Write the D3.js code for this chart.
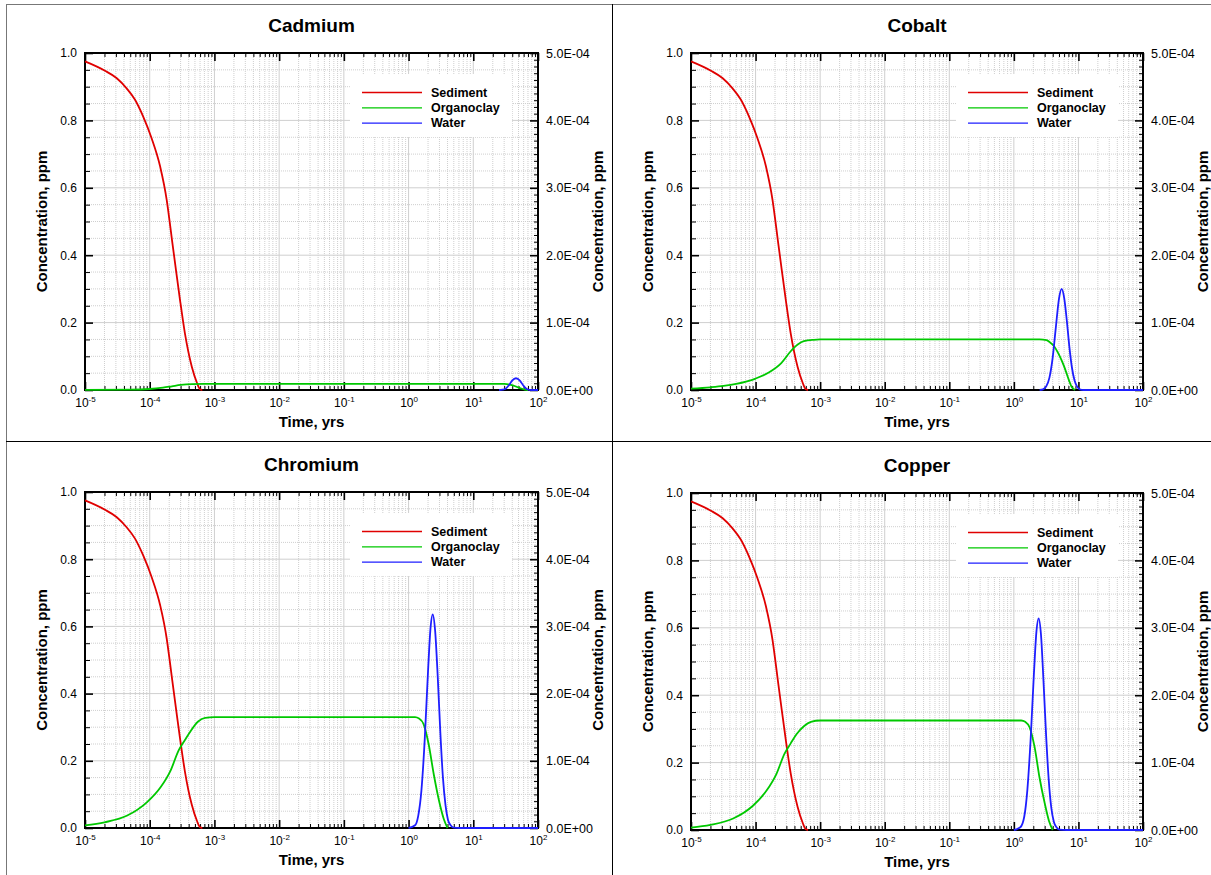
<!DOCTYPE html>
<html>
<head>
<meta charset="utf-8">
<script src="https://cdn.jsdelivr.net/npm/d3@7"></script>
<style>
body { margin: 0; background: #fff; }
svg { display: block; }
</style>
</head>
<body>
<div id="chart"></div>
<script>
const WIDTH = 1211, HEIGHT = 875;
const FONT = "Arial, 'Liberation Sans', sans-serif";

// axis ticks
const X_TICKS = [1e-5, 1e-4, 1e-3, 1e-2, 1e-1, 1e0, 1e1, 1e2];
const LEFT_TICKS = [0, 0.2, 0.4, 0.6, 0.8, 1.0];
const RIGHT_TICKS = [0, 1e-4, 2e-4, 3e-4, 4e-4, 5e-4];
const SERIES_NAMES = ["Sediment", "Organoclay", "Water"];
const SERIES_COLORS = ["#e00000", "#00c800", "#1e1eff"];

// sediment curve (same in all four runs), time in yrs, conc in ppm
const sedimentTime = [1.0e-5, 2.0e-5, 3.1e-5, 4.4e-5, 5.9e-5, 7.9e-5, 1.07e-4, 1.45e-4, 1.83e-4, 2.0e-4, 2.21e-4, 2.57e-4, 2.94e-4, 3.5e-4, 4.47e-4, 5.4e-4, 6.0e-4, 6.5e-4];
const sedimentConc = [0.975, 0.948, 0.925, 0.895, 0.862, 0.812, 0.747, 0.663, 0.564, 0.51, 0.445, 0.35, 0.267, 0.168, 0.069, 0.02, 0.002, 0];

// Cadmium
const cadmiumClayTime = [1e-5, 5e-5, 1e-4, 1.6e-4, 2.2e-4, 3e-4, 4.5e-4, 7e-4, 30, 38, 46, 54, 62, 70];
const cadmiumClayConc = [0.0005, 0.001, 0.003, 0.007, 0.011, 0.015, 0.0175, 0.018, 0.018, 0.015, 0.010, 0.005, 0.001, 0];
const cadmiumWaterTime = [25, 28.2, 31.6, 35.5, 39.8, 45.7, 52.5, 58.9, 66.1, 74.1, 83.2, 100];
const cadmiumWaterConc = [0, 0.05e-5, 0.2e-5, 0.7e-5, 1.4e-5, 1.74e-5, 1.4e-5, 0.7e-5, 0.2e-5, 0.03e-5, 0, 0];

// Cobalt
const cobaltClayTime = [1e-5, 2e-5, 3.2e-5, 5e-5, 1e-4, 1.6e-4, 2.5e-4, 3.5e-4, 4.5e-4, 5.6e-4, 8e-4, 1e-3, 2.5, 3.2, 3.6, 4.2, 5.0, 6.0, 7.1, 7.9, 8.9];
const cobaltClayConc = [0.004, 0.008, 0.012, 0.018, 0.034, 0.052, 0.08, 0.115, 0.135, 0.145, 0.149, 0.15, 0.15, 0.148, 0.142, 0.13, 0.105, 0.07, 0.03, 0.008, 0];
const cobaltWaterTime = [2.51, 2.82, 3.16, 3.55, 3.98, 4.47, 5.01, 5.5, 6.03, 6.61, 7.24, 7.94, 8.71, 9.55, 10.5, 12, 100];
const cobaltWaterConc = [0, 0.01e-4, 0.05e-4, 0.18e-4, 0.47e-4, 0.93e-4, 1.36e-4, 1.5e-4, 1.36e-4, 1.03e-4, 0.64e-4, 0.33e-4, 0.14e-4, 0.05e-4, 0.01e-4, 0, 0];

// Chromium
const chromiumClayTime = [1e-5, 2e-5, 4.5e-5, 9.1e-5, 1.48e-4, 2.1e-4, 2.8e-4, 3.5e-4, 4.3e-4, 5.6e-4, 7.2e-4, 1e-3, 1.26, 1.45, 1.70, 2.04, 2.45, 2.95, 3.5, 4.0];
const chromiumClayConc = [0.0075, 0.017, 0.037, 0.077, 0.122, 0.171, 0.231, 0.262, 0.289, 0.317, 0.328, 0.33, 0.33, 0.326, 0.31, 0.25, 0.16, 0.082, 0.027, 0];
const chromiumWaterTime = [1.0, 1.26, 1.41, 1.58, 1.78, 2.0, 2.19, 2.36, 2.57, 2.82, 3.09, 3.39, 3.72, 4.07, 4.47, 5.0, 6.3, 100];
const chromiumWaterConc = [0, 0.04e-4, 0.18e-4, 0.56e-4, 1.33e-4, 2.34e-4, 2.99e-4, 3.18e-4, 2.94e-4, 2.26e-4, 1.44e-4, 0.76e-4, 0.34e-4, 0.12e-4, 0.04e-4, 0.005e-4, 0, 0];

// Copper
const copperClayTime = [1e-5, 2e-5, 4.5e-5, 9.1e-5, 1.48e-4, 2.1e-4, 2.8e-4, 3.5e-4, 4.3e-4, 5.6e-4, 7.2e-4, 1e-3, 1.3, 1.5, 1.75, 2.1, 2.5, 3.0, 3.5, 4.0];
const copperClayConc = [0.007, 0.015, 0.034, 0.072, 0.117, 0.166, 0.226, 0.257, 0.284, 0.308, 0.321, 0.325, 0.325, 0.321, 0.305, 0.245, 0.155, 0.08, 0.027, 0];
const copperWaterTime = [1.0, 1.26, 1.45, 1.62, 1.82, 2.04, 2.24, 2.42, 2.63, 2.88, 3.16, 3.47, 3.8, 4.17, 4.57, 5.1, 6.5, 100];
const copperWaterConc = [0, 0.04e-4, 0.2e-4, 0.6e-4, 1.35e-4, 2.3e-4, 2.95e-4, 3.14e-4, 2.9e-4, 2.2e-4, 1.4e-4, 0.74e-4, 0.33e-4, 0.12e-4, 0.04e-4, 0.005e-4, 0, 0];

// panel layout
const panels = [
    { name: "Cadmium", x0: 85, y0: 53, x1: 538, y1: 390, clayT: cadmiumClayTime, clayC: cadmiumClayConc, waterT: cadmiumWaterTime, waterC: cadmiumWaterConc },
    { name: "Cobalt", x0: 691, y0: 53, x1: 1143, y1: 390, clayT: cobaltClayTime, clayC: cobaltClayConc, waterT: cobaltWaterTime, waterC: cobaltWaterConc },
    { name: "Chromium", x0: 85, y0: 492, x1: 538, y1: 828, clayT: chromiumClayTime, clayC: chromiumClayConc, waterT: chromiumWaterTime, waterC: chromiumWaterConc },
    { name: "Copper", x0: 691, y0: 493, x1: 1143, y1: 830, clayT: copperClayTime, clayC: copperClayConc, waterT: copperWaterTime, waterC: copperWaterConc }
];

const svg = d3.select("#chart").append("svg")
    .attr("width", WIDTH)
    .attr("height", HEIGHT)
    .style("font-family", FONT);
svg.append("rect").attr("width", WIDTH).attr("height", HEIGHT).attr("fill", "#fff");

const SciFormat = d => {
    const [m, e] = d.toExponential(1).split("e");
    const ex = Math.abs(+e);
    return `${m}E${+e < 0 ? "-" : "+"}${ex < 10 ? "0" + ex : ex}`;
};
const IsDecade = t => Math.abs(Math.log10(t) - Math.round(Math.log10(t))) < 1e-6;
const StyleAxis = (g, size) => {
    g.select(".domain").remove();
    g.attr("font-family", FONT).attr("font-size", size || 12);
    g.selectAll(".tick line").attr("stroke", "#000");
    g.selectAll(".tick text").attr("fill", "#000");
};

function DrawPanel(p) {
    const x = d3.scaleLog().domain([1e-5, 1e2]).range([p.x0, p.x1]);
    const yL = d3.scaleLinear().domain([0, 1]).range([p.y1, p.y0]);
    const yR = d3.scaleLinear().domain([0, 5e-4]).range([p.y1, p.y0]);
    const g = svg.append("g");

    const allX = x.ticks();
    const minorX = allX.filter(t => !IsDecade(t));
    const innerX = allX.filter(t => t > 1e-5 && t < 1e2);
    const allY = yL.ticks(20);
    const minorL = allY.filter(v => !LEFT_TICKS.some(m => Math.abs(m - v) < 1e-9));
    const minorR = yR.ticks(50).filter(v => !RIGHT_TICKS.some(m => Math.abs(m - v) < 1e-12));

    // grid
    const grid = g.append("g");
    grid.selectAll(".vg").data(innerX).join("line")
        .attr("x1", d => x(d)).attr("x2", d => x(d))
        .attr("y1", p.y0).attr("y2", p.y1)
        .attr("stroke", "#cfcfcf")
        .attr("stroke-width", 1)
        .attr("stroke-dasharray", d => IsDecade(d) ? null : "1,1");
    grid.selectAll(".hg").data(allY.filter(v => v > 0 && v < 1)).join("line")
        .attr("x1", p.x0).attr("x2", p.x1)
        .attr("y1", d => yL(d)).attr("y2", d => yL(d))
        .attr("stroke", "#cfcfcf")
        .attr("stroke-width", 1)
        .attr("stroke-dasharray", d => minorL.includes(d) ? "1,1" : null);

    // legend background
    g.append("rect")
        .attr("x", p.x0 + 265).attr("y", p.y0 + 21)
        .attr("width", 162).attr("height", 63)
        .attr("fill", "#fff");

    // curves
    const lineL = d3.line().x(d => x(d[0])).y(d => yL(d[1])).curve(d3.curveMonotoneX);
    const lineR = d3.line().x(d => x(d[0])).y(d => yR(d[1])).curve(d3.curveMonotoneX);
    const curves = [
        { path: lineL(d3.zip(sedimentTime, sedimentConc)), color: SERIES_COLORS[0] },
        { path: lineL(d3.zip(p.clayT, p.clayC)), color: SERIES_COLORS[1] },
        { path: lineR(d3.zip(p.waterT, p.waterC)), color: SERIES_COLORS[2] }
    ];

    // frame
    g.append("rect")
        .attr("x", p.x0).attr("y", p.y0)
        .attr("width", p.x1 - p.x0).attr("height", p.y1 - p.y0)
        .attr("fill", "none").attr("stroke", "#000").attr("stroke-width", 2);

    // bottom axis
    g.append("g").attr("transform", `translate(0,${p.y1})`)
        .call(d3.axisBottom(x).tickValues(X_TICKS).tickSize(-8).tickSizeOuter(0).tickPadding(8.5).tickFormat(""))
        .call(a => StyleAxis(a))
        .call(a => a.selectAll(".tick line").attr("stroke-width", 1.6))
        .call(a => a.selectAll(".tick text").each(function (d) {
            const t = d3.select(this).attr("text-anchor", "middle");
            t.append("tspan").text("10");
            t.append("tspan").attr("dy", -5).attr("font-size", 8).text(Math.round(Math.log10(d)));
        }));
    g.append("g").attr("transform", `translate(0,${p.y1})`)
        .call(d3.axisBottom(x).tickValues(minorX).tickSize(-4).tickSizeOuter(0).tickFormat(""))
        .call(a => StyleAxis(a));
    // top axis
    g.append("g").attr("transform", `translate(0,${p.y0})`)
        .call(d3.axisTop(x).tickValues(X_TICKS).tickSize(-8).tickSizeOuter(0).tickFormat(""))
        .call(a => StyleAxis(a))
        .call(a => a.selectAll(".tick line").attr("stroke-width", 1.6));
    g.append("g").attr("transform", `translate(0,${p.y0})`)
        .call(d3.axisTop(x).tickValues(minorX).tickSize(-4).tickSizeOuter(0).tickFormat(""))
        .call(a => StyleAxis(a));
    // left axis
    g.append("g").attr("transform", `translate(${p.x0},0)`)
        .call(d3.axisLeft(yL).tickValues(LEFT_TICKS).tickSize(-8).tickSizeOuter(0).tickPadding(8).tickFormat(d3.format(".1f")))
        .call(a => StyleAxis(a))
        .call(a => a.selectAll(".tick line").attr("stroke-width", 1.6));
    g.append("g").attr("transform", `translate(${p.x0},0)`)
        .call(d3.axisLeft(yL).tickValues(minorL).tickSize(-5).tickSizeOuter(0).tickFormat(""))
        .call(a => StyleAxis(a));
    // right axis
    g.append("g").attr("transform", `translate(${p.x1},0)`)
        .call(d3.axisRight(yR).tickValues(RIGHT_TICKS).tickSize(-8).tickSizeOuter(0).tickPadding(8).tickFormat(SciFormat))
        .call(a => StyleAxis(a, 12.5))
        .call(a => a.selectAll(".tick line").attr("stroke-width", 1.6));
    g.append("g").attr("transform", `translate(${p.x1},0)`)
        .call(d3.axisRight(yR).tickValues(minorR).tickSize(-4).tickSizeOuter(0).tickFormat(""))
        .call(a => StyleAxis(a));

    g.selectAll(".curve").data(curves).join("path")
        .attr("d", d => d.path)
        .attr("fill", "none")
        .attr("stroke", d => d.color)
        .attr("stroke-width", 1.8)
        .attr("stroke-linejoin", "round");

    // legend
    const leg = g.append("g");
    SERIES_NAMES.forEach((name, i) => {
        const ly = p.y0 + 39.5 + i * 15.3;
        leg.append("line")
            .attr("x1", p.x0 + 277).attr("x2", p.x0 + 337)
            .attr("y1", ly).attr("y2", ly)
            .attr("stroke", SERIES_COLORS[i]).attr("stroke-width", 1.3);
        leg.append("text")
            .attr("x", p.x0 + 346).attr("y", ly).attr("dy", "0.35em")
            .attr("font-size", 12.5).attr("font-weight", "bold")
            .text(name);
    });

    // titles
    const cx = (p.x0 + p.x1) / 2, cy = (p.y0 + p.y1) / 2;
    g.append("text").attr("x", cx).attr("y", p.y0 - 21)
        .attr("text-anchor", "middle").attr("font-size", 19).attr("font-weight", "bold")
        .text(p.name);
    g.append("text").attr("x", cx).attr("y", p.y1 + 37)
        .attr("text-anchor", "middle").attr("font-size", 15).attr("font-weight", "bold")
        .text("Time, yrs");
    g.append("text").attr("transform", `translate(${p.x0 - 38},${cy}) rotate(-90)`)
        .attr("text-anchor", "middle").attr("font-size", 15).attr("font-weight", "bold")
        .text("Concentration, ppm");
    g.append("text").attr("transform", `translate(${p.x1 + 65},${cy}) rotate(-90)`)
        .attr("text-anchor", "middle").attr("font-size", 15).attr("font-weight", "bold")
        .text("Concentration, ppm");
}

panels.forEach(DrawPanel);

// panel frame lines
svg.append("line").attr("x1", 6).attr("x2", WIDTH).attr("y1", 4.5).attr("y2", 4.5).attr("stroke", "#777");
svg.append("line").attr("x1", 6.5).attr("x2", 6.5).attr("y1", 4).attr("y2", HEIGHT).attr("stroke", "#777");
svg.append("line").attr("x1", 612.5).attr("x2", 612.5).attr("y1", 4).attr("y2", HEIGHT).attr("stroke", "#000");
svg.append("line").attr("x1", 6).attr("x2", WIDTH).attr("y1", 441.5).attr("y2", 441.5).attr("stroke", "#000");
</script>
</body>
</html>
